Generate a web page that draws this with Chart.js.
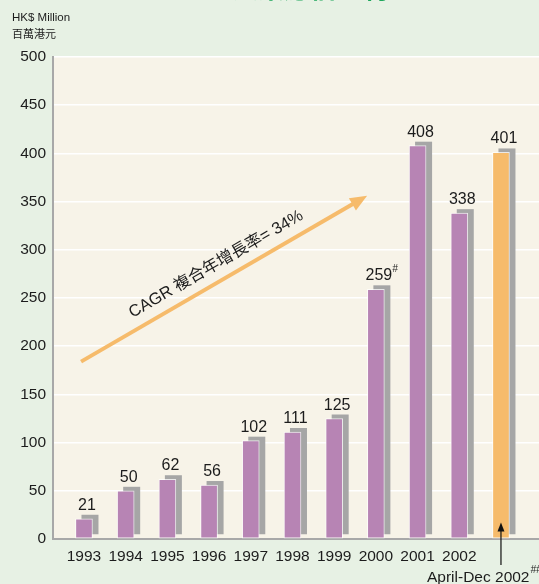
<!DOCTYPE html>
<html>
<head>
<meta charset="utf-8">
<script src="https://cdn.jsdelivr.net/npm/chart.js@4.4.0/dist/chart.umd.min.js"></script>
<style>
    html, body { margin: 0; padding: 0; background: #e7f1e4; }
    #wrap { width: 539px; height: 584px; overflow: hidden; }
</style>
</head>
<body>
<div id="wrap"><canvas id="profit" width="539" height="584"></canvas></div>
<script>
const years = ["1993", "1994", "1995", "1996", "1997", "1998", "1999", "2000", "2001", "2002", "April-Dec 2002"];
const profit = [21, 50, 62, 56, 102, 111, 125, 259, 408, 338, 401];
const marks = ["", "", "", "", "", "", "", "#", "", "", ""];
const yMin = 0, yMax = 500, yStep = 50;

const unitEn = "HK$ Million";
const unitZh = "百萬港元";
const titleZh = "股東應佔溢利";
const cagrText = "CAGR 複合年增長率= 34%";
const lastMark = "##";

// annotation anchors, in data units (x = category index, y = HK$ million)
const cagrFrom = [-0.07, 184];
const cagrTo = [6.79, 356];
const cagrLabelAt = [3.17, 285];

const FONT = '"Liberation Sans", Arial, sans-serif';
const FONT_MIX = '"Liberation Sans", "Noto Sans CJK TC", sans-serif';
const purple = "#b784b4";
const orange = "#f6bb6b";
const shadow = "#a6a6a6";
const ink = "#1c1c1c";

const background = {
    id: "background",
    beforeDraw(chart) {
        const { ctx, chartArea } = chart;
        ctx.save();
        ctx.fillStyle = "#e7f1e4";
        ctx.fillRect(0, 0, chart.width, chart.height);
        ctx.fillStyle = "#f7f3e8";
        ctx.fillRect(chartArea.left, chartArea.top, chart.width - chartArea.left, chartArea.bottom - chartArea.top);
        // cut-off title at the very top
        ctx.fillStyle = "#1fa75c";
        ctx.font = 'bold 26px "Noto Sans CJK TC", sans-serif';
        ctx.textAlign = "center";
        ctx.textBaseline = "alphabetic";
        ctx.fillText(titleZh, 310, -2);
        // unit captions
        ctx.fillStyle = ink;
        ctx.textAlign = "left";
        ctx.font = "11.5px " + FONT;
        ctx.fillText(unitEn, 12, 21);
        ctx.font = '11px "Noto Sans CJK TC", sans-serif';
        ctx.fillText(unitZh, 12, 38);
        ctx.restore();
    },
};

const barShadow = {
    id: "barShadow",
    beforeDatasetsDraw(chart) {
        const { ctx } = chart;
        ctx.save();
        ctx.fillStyle = shadow;
        chart.getDatasetMeta(0).data.forEach((bar) => {
            const { x, y, base, width } = bar.getProps(["x", "y", "base", "width"], true);
            ctx.fillRect(x - width / 2 + 6, y - 4, width, base - y);
        });
        ctx.restore();
    },
};

const extras = {
    id: "extras",
    afterDatasetsDraw(chart) {
        const { ctx, scales } = chart;
        const xs = scales.x, ys = scales.y;
        ctx.save();

        // value labels
        ctx.fillStyle = ink;
        ctx.textBaseline = "alphabetic";
        chart.getDatasetMeta(0).data.forEach((bar, i) => {
            const text = String(profit[i]);
            ctx.font = "16px " + FONT;
            const w = ctx.measureText(text).width;
            const cx = bar.x + 3;
            ctx.textAlign = "center";
            ctx.fillText(text, cx, bar.y - 9);
            if (marks[i]) {
                ctx.font = "italic 10px " + FONT;
                ctx.textAlign = "left";
                ctx.fillText(marks[i], cx + w / 2, bar.y - 17);
            }
        });

        // CAGR arrow
        const x1 = xs.getPixelForValue(cagrFrom[0]), y1 = ys.getPixelForValue(cagrFrom[1]);
        const x2 = xs.getPixelForValue(cagrTo[0]), y2 = ys.getPixelForValue(cagrTo[1]);
        const ang = Math.atan2(y2 - y1, x2 - x1);
        ctx.strokeStyle = orange;
        ctx.fillStyle = orange;
        ctx.lineWidth = 4;
        ctx.lineCap = "butt";
        ctx.beginPath();
        ctx.moveTo(x1, y1);
        ctx.lineTo(x2 - 12 * Math.cos(ang), y2 - 12 * Math.sin(ang));
        ctx.stroke();
        ctx.save();
        ctx.translate(x2, y2);
        ctx.rotate(ang);
        ctx.beginPath();
        ctx.moveTo(0, 0);
        ctx.lineTo(-17, -7);
        ctx.lineTo(-17, 7);
        ctx.closePath();
        ctx.fill();
        ctx.restore();

        ctx.save();
        ctx.translate(xs.getPixelForValue(cagrLabelAt[0]), ys.getPixelForValue(cagrLabelAt[1]));
        ctx.rotate(ang);
        ctx.fillStyle = ink;
        ctx.font = "16.5px " + FONT_MIX;
        ctx.textAlign = "center";
        ctx.textBaseline = "middle";
        ctx.fillText(cagrText, 0, 0);
        ctx.restore();

        // last category label with pointer
        const lx = xs.getPixelForValue(years.length - 1);
        ctx.fillStyle = ink;
        ctx.font = "15.5px " + FONT;
        ctx.textAlign = "left";
        ctx.textBaseline = "alphabetic";
        const last = years[years.length - 1];
        const lw = ctx.measureText(last).width;
        ctx.fillText(last, lx - 74, 582);
        ctx.font = "italic 10px " + FONT;
        ctx.fillText(lastMark, lx - 74 + lw + 1, 573);

        const tipY = ys.getPixelForValue(17);
        ctx.strokeStyle = "#111";
        ctx.lineWidth = 1.2;
        ctx.beginPath();
        ctx.moveTo(lx, 565);
        ctx.lineTo(lx, tipY + 6);
        ctx.stroke();
        ctx.fillStyle = "#111";
        ctx.beginPath();
        ctx.moveTo(lx, tipY);
        ctx.lineTo(lx - 3.5, tipY + 9);
        ctx.lineTo(lx + 3.5, tipY + 9);
        ctx.closePath();
        ctx.fill();

        ctx.restore();
    },
};

const ctx = document.getElementById("profit").getContext("2d");

new Chart(ctx, {
    type: "bar",
    data: {
        datasets: [
            {
                data: profit.map((v, i) => ({ x: i, y: v })),
                backgroundColor: profit.map((v, i) => (i === profit.length - 1 ? orange : purple)),
                borderColor: "rgba(255,255,255,0.75)",
                borderWidth: 1,
                borderSkipped: false,
                barThickness: 17,
            },
        ],
    },
    options: {
        responsive: false,
        animation: false,
        devicePixelRatio: 1,
        layout: { padding: { top: 57, right: 0, bottom: 0, left: 0 } },
        plugins: {
            legend: { display: false },
            tooltip: { enabled: false },
        },
        scales: {
            x: {
                type: "linear",
                offset: false,
                min: -0.743,
                max: 10.912,
                grid: { display: false, drawTicks: false, offset: false },
                border: { color: "#a8a8a8", width: 2 },
                ticks: {
                    stepSize: 1,
                    includeBounds: false,
                    autoSkip: false,
                    maxRotation: 0,
                    padding: 8,
                    color: ink,
                    font: { family: FONT, size: 15.5 },
                    callback: (v) => (Number.isInteger(v) && v < years.length - 1 ? years[v] : ""),
                },
                afterFit: (s) => { s.height = 45; },
            },
            y: {
                min: yMin,
                max: yMax,
                grid: { color: "#ffffff", lineWidth: 1.5, drawTicks: false },
                border: { color: "#a8a8a8", width: 2 },
                ticks: {
                    stepSize: yStep,
                    padding: 7,
                    color: ink,
                    font: { family: FONT, size: 15.5 },
                },
                afterFit: (s) => { s.width = 53; },
            },
        },
    },
    plugins: [background, barShadow, extras],
});
</script>
</body>
</html>
